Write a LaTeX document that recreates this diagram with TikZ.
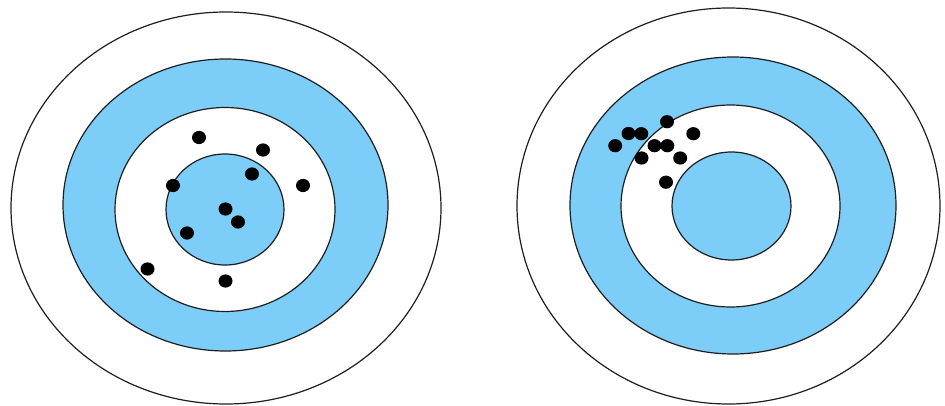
\documentclass[tikz,border=0pt]{standalone}
\definecolor{ringblue}{RGB}{124,206,248}
\definecolor{ringline}{RGB}{30,30,30}
\tikzset{
  ring/.style={draw=ringline, line width=1.2pt},
  shot/.style={fill=black}
}
\begin{document}
\begin{tikzpicture}[x=1pt,y=-1pt]
\useasboundingbox (0,0) rectangle (945,406);
% left target
\filldraw[ring, fill=white] (226,208) ellipse [x radius=215, y radius=196];
\filldraw[ring, fill=ringblue] (225.5,205) ellipse [x radius=162.5, y radius=146];
\filldraw[ring, fill=white] (225,209.5) ellipse [x radius=110, y radius=102];
\filldraw[ring, fill=ringblue] (225,209.5) ellipse [x radius=59, y radius=55.5];
\foreach \p in {(199,137.5),(263,150),(252,174),(173,185.5),(303,185.5),(225.5,209),(238,222),(187,233),(147.5,269),(225.5,281)}
  \fill[shot] \p ellipse [x radius=7, y radius=6.6];
% right target
\filldraw[ring, fill=white] (728.5,206) ellipse [x radius=211.5, y radius=198];
\filldraw[ring, fill=ringblue] (733,205.5) ellipse [x radius=163, y radius=148.5];
\filldraw[ring, fill=white] (730.5,206) ellipse [x radius=109.5, y radius=101];
\filldraw[ring, fill=ringblue] (731.5,206) ellipse [x radius=59.5, y radius=54];
\foreach \p in {(667,121.7),(693.3,133.7),(628.5,133.5),(641.3,133.7),(615.2,145.7),(654.5,145.7),(667.3,145.7),(641.5,158),(680.2,158),(666,182.2)}
  \fill[shot] \p ellipse [x radius=7, y radius=6.6];
\end{tikzpicture}
\end{document}
